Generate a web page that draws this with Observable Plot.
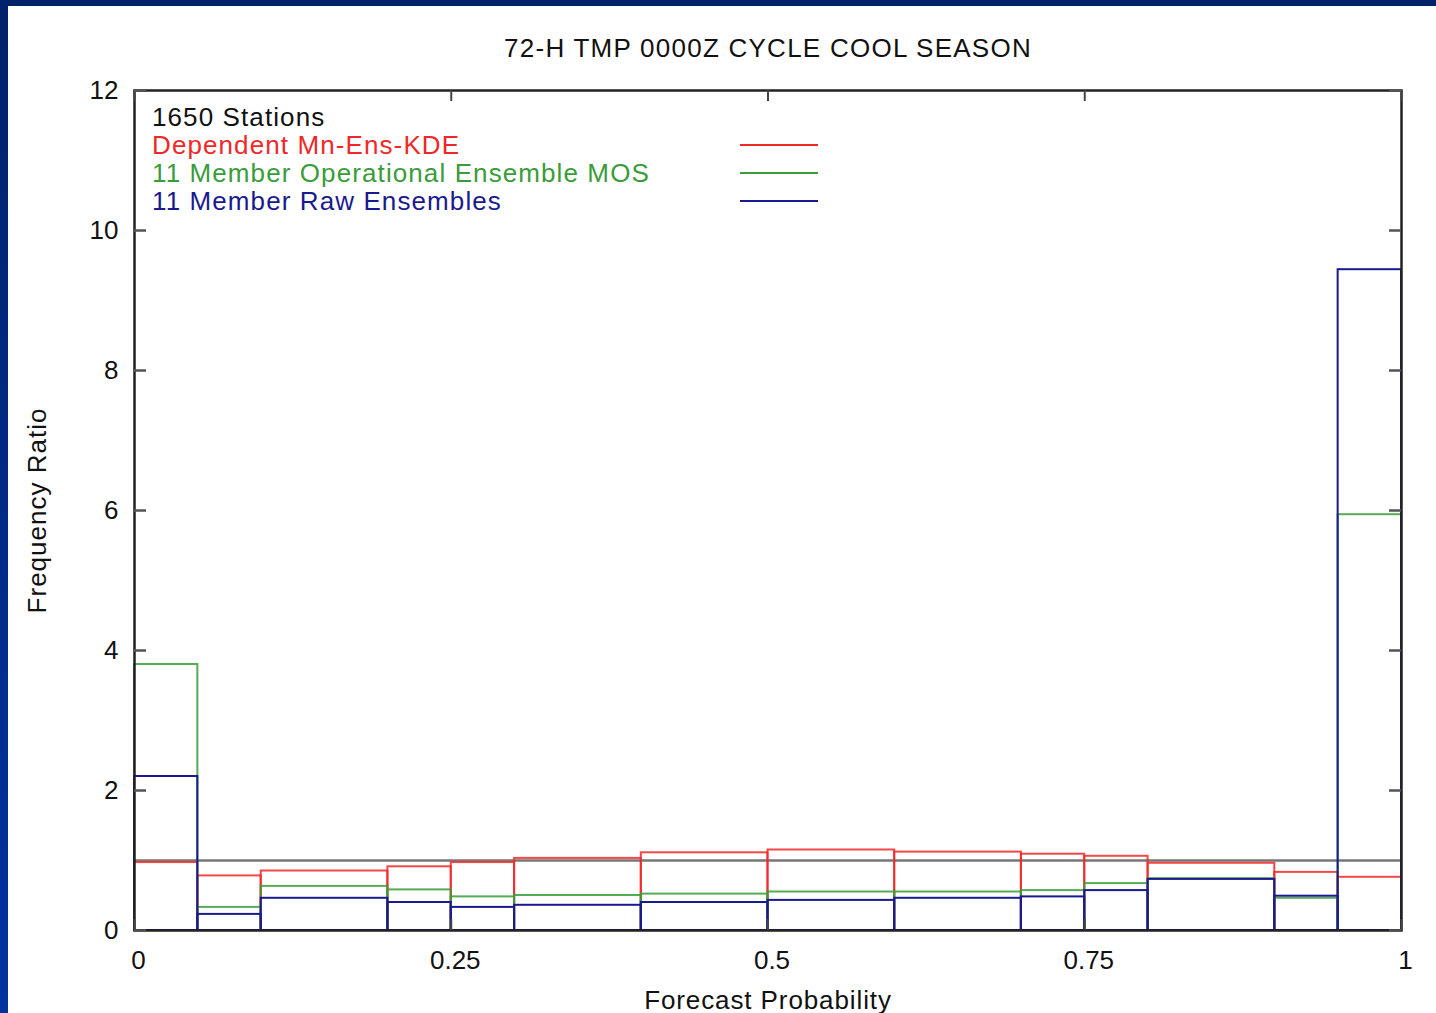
<!DOCTYPE html>
<html>
<head>
<meta charset="utf-8">
<script src="https://cdn.jsdelivr.net/npm/d3@7"></script>
<script src="https://cdn.jsdelivr.net/npm/@observablehq/plot@0.6"></script>
<style>
  html, body { margin: 0; padding: 0; }
  body { width: 1436px; height: 1013px; overflow: hidden; position: relative;
         background: linear-gradient(to bottom, #00226a, #0033a0); font-family: "Liberation Sans", Arial, sans-serif; }
  #chart { position: absolute; left: 8px; top: 6px; width: 1428px; height: 1007px; background: #fff; }
  #chart svg { display: block; }
  .leg { position: absolute; font-size: 26px; white-space: nowrap; line-height: 28px; letter-spacing: 1.1px; }
  .legline { position: absolute; height: 2px; }
</style>
</head>
<body>
<div id="chart"></div>
<script>
// ---- data ----
const binStart = [0, 0.05, 0.1, 0.2, 0.25, 0.3, 0.4, 0.5, 0.6, 0.7, 0.75, 0.8, 0.9, 0.95];
const binEnd   = [0.05, 0.1, 0.2, 0.25, 0.3, 0.4, 0.5, 0.6, 0.7, 0.75, 0.8, 0.9, 0.95, 1];
const kdeRatio = [0.97, 0.78, 0.85, 0.91, 0.97, 1.03, 1.11, 1.15, 1.12, 1.09, 1.06, 0.96, 0.83, 0.76];
const mosRatio = [3.80, 0.33, 0.63, 0.58, 0.48, 0.50, 0.52, 0.55, 0.55, 0.57, 0.67, 0.74, 0.46, 5.94];
const rawRatio = [2.20, 0.23, 0.46, 0.40, 0.33, 0.36, 0.40, 0.43, 0.46, 0.48, 0.57, 0.73, 0.49, 9.44];
const seriesNames = ["Dependent Mn-Ens-KDE", "11 Member Operational Ensemble MOS", "11 Member Raw Ensembles"];
const seriesColors = ["#f02828", "#3a9c3a", "#1a1a8e"];
const xTicks = [0, 0.25, 0.5, 0.75, 1];
const yTicks = [0, 2, 4, 6, 8, 10, 12];
const titleText = "72-H TMP 0000Z CYCLE COOL SEASON";
const stationsText = "1650 Stations";
const xLabel = "Forecast Probability";
const yLabel = "Frequency Ratio";

const seriesValues = [kdeRatio, mosRatio, rawRatio];
const rows = seriesValues.map((vals, s) =>
  vals.map((v, i) => ({series: seriesNames[s], x1: binStart[i], x2: binEnd[i], value: v})));

const W = 1428, H = 1007;
const mL = 126, mR = 35, mT = 84, mB = 83;
const fw = W - mL - mR, fh = H - mT - mB;
const font = "Liberation Sans, Arial, sans-serif";

const chart = Plot.plot({
  width: W, height: H,
  marginLeft: mL, marginRight: mR, marginTop: mT, marginBottom: mB,
  style: {fontFamily: font, fontSize: "26px", color: "#111", background: "#fff"},
  x: {domain: [0, 1]},
  y: {domain: [0, 12]},
  marks: [
    Plot.ruleY([1], {stroke: "#777", strokeWidth: 2.5}),
    ...rows.map((r, s) => Plot.rect(r, {x1: "x1", x2: "x2", y1: 0, y2: "value",
        fill: "none", stroke: seriesColors[s], strokeWidth: 2, strokeOpacity: s === 2 ? 1 : 0.85})),
    Plot.frame({stroke: "#222", strokeWidth: 2.5}),
    Plot.tickX(xTicks, {x: d => d, insetTop: fh - 11, stroke: "#444", strokeWidth: 2}),
    Plot.tickX(xTicks, {x: d => d, insetBottom: fh - 11, stroke: "#444", strokeWidth: 2}),
    Plot.tickY(yTicks, {y: d => d, insetRight: fw - 12, stroke: "#555", strokeWidth: 2.5}),
    Plot.tickY(yTicks, {y: d => d, insetLeft: fw - 12, stroke: "#555", strokeWidth: 2.5}),
    Plot.axisX(xTicks, {tickSize: 0, tickPadding: 20, tickFormat: d => String(d), dx: 4, fontSize: 26, label: null}),
    Plot.axisY(yTicks, {tickSize: 0, tickPadding: 16, tickFormat: d => String(d), fontSize: 26, label: null}),
    Plot.text([titleText], {frameAnchor: "top", dy: -52, text: d => d, fontSize: 26, fill: "#111"}),
    Plot.text([xLabel], {frameAnchor: "bottom", dy: 78, text: d => d, fontSize: 26, fill: "#111"}),
    Plot.text([yLabel], {frameAnchor: "left", dx: -97, rotate: -90, textAnchor: "middle", text: d => d, fontSize: 26, fill: "#111"})
  ]
});
const host = document.getElementById("chart");
host.appendChild(chart);

// letter spacing to match the reference's wider text setting
const spacing = new Map([[titleText, "1.25px"], [xLabel, "0.9px"], [yLabel, "1px"]]);
d3.select(chart).selectAll("text").each(function() {
  const s = spacing.get(this.textContent);
  if (s) this.setAttribute("letter-spacing", s);
});

// legend (inside frame, top-left)
const legendItems = [{text: stationsText, color: "#111", line: false}]
  .concat(seriesNames.map((n, i) => ({text: n, color: seriesColors[i], line: true})));
legendItems.forEach((it, i) => {
  const cy = 117 + i * 28 - 6; // center in chart-div coords
  const t = document.createElement("div");
  t.className = "leg";
  t.style.left = (152 - 8) + "px";
  t.style.top = (cy - 14) + "px";
  t.style.color = it.color;
  t.textContent = it.text;
  host.appendChild(t);
  if (it.line) {
    const l = document.createElement("div");
    l.className = "legline";
    l.style.left = (740 - 8) + "px";
    l.style.width = "78px";
    l.style.top = (cy - 1) + "px";
    l.style.background = it.color;
    host.appendChild(l);
  }
});
</script>
</body>
</html>
